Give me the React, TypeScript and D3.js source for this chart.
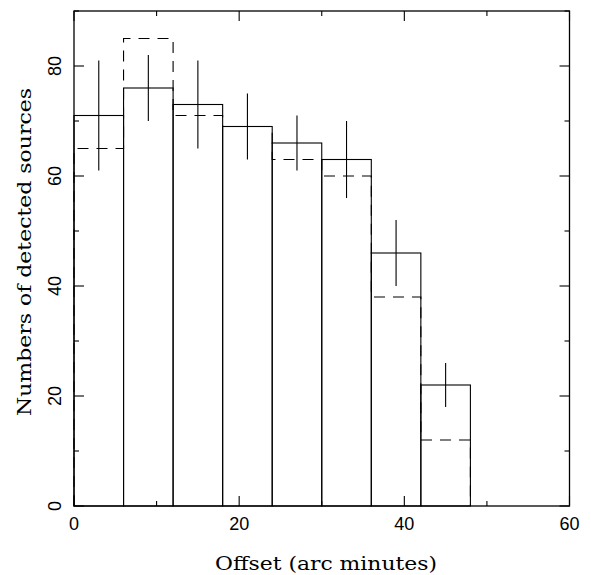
import React from "react";
import * as d3 from "d3";

const binEdges = [0, 6, 12, 18, 24, 30, 36, 42, 48];
const solidCounts = [71, 76, 73, 69, 66, 63, 46, 22];
const dashedCounts = [65, 85, 71, 69, 63, 60, 38, 12];
const errLow = [61, 70, 65, 63, 61, 56, 40, 18];
const errHigh = [81, 82, 81, 75, 71, 70, 52, 26];
const xMajor = [0, 20, 40, 60];
const xMinor = [10, 30, 50];
const yMajor = [0, 20, 40, 60, 80];
const yMinor = [10, 30, 50, 70, 90];

const W = 591, H = 575;
const L = 74, R = 569.5, T = 11, B = 506;
const FONT = "'DejaVu Serif', serif";
const TICKFONT = "'Liberation Sans', sans-serif";

export default function App() {
  const x = d3.scaleLinear().domain([0, 60]).range([L, R]);
  const y = d3.scaleLinear().domain([0, 90]).range([B, T]);

  const pts: [number, number][] = [[binEdges[0], 0]];
  dashedCounts.forEach((v, i) => {
    pts.push([binEdges[i], v]);
    pts.push([binEdges[i + 1], v]);
  });
  pts.push([binEdges[binEdges.length - 1], 0]);
  const dashedPath = d3.line<[number, number]>().x((d) => x(d[0])).y((d) => y(d[1]))(pts) || "";

  return (
    <svg width={W} height={H} style={{ position: "absolute", left: 0, top: 0 }}>
      <rect x={0} y={0} width={W} height={H} fill="#fff" />
      <g stroke="#000" fill="none" strokeWidth={1.1}>
        <path d={dashedPath} strokeDasharray="11 8" />
        {solidCounts.map((v, i) => (
          <rect key={"b" + i} x={x(binEdges[i])} y={y(v)} width={x(binEdges[i + 1]) - x(binEdges[i])} height={y(0) - y(v)} />
        ))}
        {solidCounts.map((v, i) => {
          const cx = x((binEdges[i] + binEdges[i + 1]) / 2);
          return <line key={"e" + i} x1={cx} x2={cx} y1={y(errHigh[i])} y2={y(errLow[i])} />;
        })}
        <rect x={L} y={T} width={R - L} height={B - T} strokeWidth={1.3} />
        {xMajor.map((t) => (
          <g key={"xm" + t}>
            <line x1={x(t)} x2={x(t)} y1={B} y2={B - 10} />
            <line x1={x(t)} x2={x(t)} y1={T} y2={T + 10} />
          </g>
        ))}
        {xMinor.map((t) => (
          <g key={"xn" + t}>
            <line x1={x(t)} x2={x(t)} y1={B} y2={B - 5} />
            <line x1={x(t)} x2={x(t)} y1={T} y2={T + 5} />
          </g>
        ))}
        {yMajor.map((t) => (
          <g key={"ym" + t}>
            <line x1={L} x2={L + 10} y1={y(t)} y2={y(t)} />
            <line x1={R} x2={R - 10} y1={y(t)} y2={y(t)} />
          </g>
        ))}
        {yMinor.map((t) => (
          <g key={"yn" + t}>
            <line x1={L} x2={L + 5} y1={y(t)} y2={y(t)} />
            <line x1={R} x2={R - 5} y1={y(t)} y2={y(t)} />
          </g>
        ))}
      </g>
      <g fill="#000">
        <g fontFamily={TICKFONT} fontSize={18}>
          {xMajor.map((t) => (
            <text key={"xl" + t} x={x(t)} y={530} textAnchor="middle">{t}</text>
          ))}
          {yMajor.map((t) => (
            <text key={"yl" + t} transform={`translate(60.5,${y(t)}) rotate(-90)`} textAnchor="middle">{t}</text>
          ))}
        </g>
        <g fontFamily={FONT} fontSize={19} fontWeight={300}>
          <text x={326} y={570} textAnchor="middle" textLength={222} lengthAdjust="spacingAndGlyphs">Offset (arc minutes)</text>
          <text transform={`translate(31,252) rotate(-90)`} textAnchor="middle" textLength={328} lengthAdjust="spacingAndGlyphs">Numbers of detected sources</text>
        </g>
      </g>
    </svg>
  );
}
